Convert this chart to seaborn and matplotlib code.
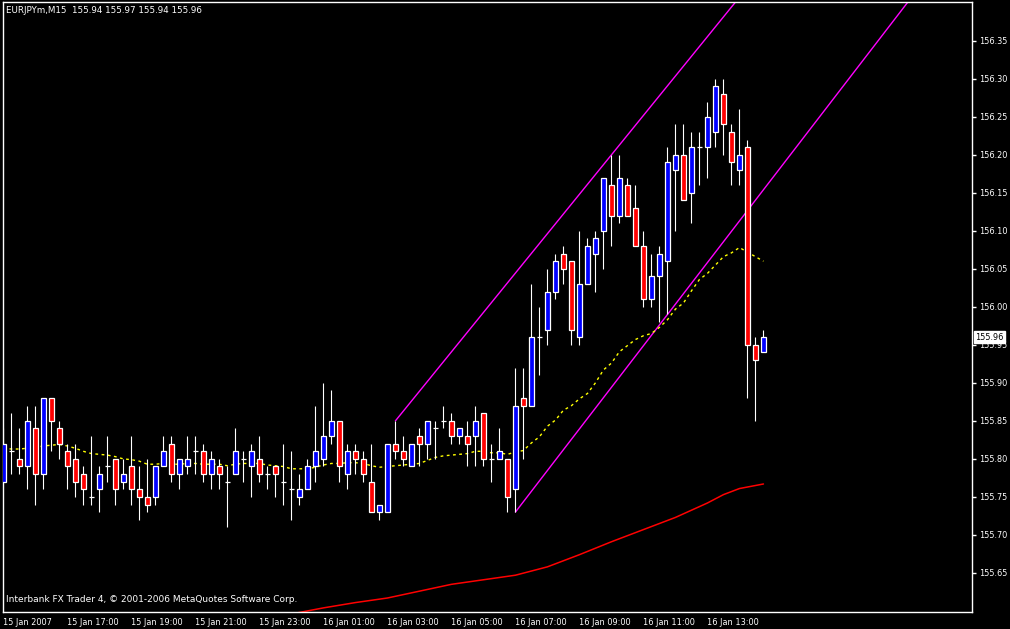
import numpy as np
import pandas as pd
import seaborn as sns
import matplotlib.pyplot as plt
from matplotlib import font_manager
from matplotlib.transforms import blended_transform_factory

# ---- data (EURJPYm, M15, 96 bars) ----
opens = [155.77, 155.81, 155.80, 155.79, 155.84, 155.78, 155.88, 155.84, 155.81, 155.80,
         155.78, 155.75, 155.76, 155.79, 155.80, 155.77, 155.79, 155.76, 155.75, 155.75,
         155.79, 155.82, 155.78, 155.79, 155.81, 155.81, 155.78, 155.79, 155.77, 155.78,
         155.80, 155.79, 155.80, 155.78, 155.79, 155.77, 155.76, 155.75, 155.76, 155.79,
         155.80, 155.83, 155.85, 155.78, 155.81, 155.80, 155.77, 155.73, 155.73, 155.82,
         155.81, 155.79, 155.83, 155.82, 155.84, 155.85, 155.85, 155.83, 155.83, 155.83,
         155.86, 155.80, 155.80, 155.80, 155.76, 155.88, 155.87, 155.96, 155.97, 156.02,
         156.07, 156.06, 155.96, 156.03, 156.07, 156.10, 156.16, 156.12, 156.16, 156.13,
         156.08, 156.01, 156.04, 156.06, 156.18, 156.20, 156.15, 156.21, 156.21, 156.23,
         156.28, 156.23, 156.18, 156.21, 155.95, 155.94]
highs = [155.84, 155.86, 155.84, 155.87, 155.87, 155.88, 155.88, 155.85, 155.82, 155.82,
         155.79, 155.83, 155.79, 155.83, 155.80, 155.80, 155.83, 155.79, 155.80, 155.79,
         155.83, 155.83, 155.80, 155.83, 155.83, 155.82, 155.81, 155.80, 155.79, 155.84,
         155.81, 155.82, 155.83, 155.79, 155.79, 155.82, 155.81, 155.78, 155.80, 155.87,
         155.90, 155.89, 155.85, 155.82, 155.82, 155.81, 155.82, 155.74, 155.82, 155.85,
         155.83, 155.82, 155.84, 155.85, 155.85, 155.87, 155.86, 155.84, 155.85, 155.87,
         155.86, 155.82, 155.84, 155.80, 155.92, 155.92, 156.03, 156.00, 156.05, 156.07,
         156.08, 156.06, 156.10, 156.09, 156.10, 156.17, 156.20, 156.20, 156.17, 156.16,
         156.10, 156.07, 156.08, 156.21, 156.24, 156.24, 156.23, 156.23, 156.27, 156.30,
         156.30, 156.24, 156.26, 156.22, 155.96, 155.97]
lows = [155.77, 155.78, 155.78, 155.76, 155.74, 155.76, 155.81, 155.80, 155.76, 155.75,
        155.74, 155.74, 155.73, 155.77, 155.74, 155.76, 155.74, 155.72, 155.73, 155.74,
        155.79, 155.77, 155.76, 155.78, 155.78, 155.77, 155.76, 155.76, 155.71, 155.78,
        155.77, 155.75, 155.77, 155.76, 155.75, 155.74, 155.72, 155.74, 155.76, 155.77,
        155.79, 155.82, 155.77, 155.76, 155.78, 155.77, 155.73, 155.72, 155.73, 155.80,
        155.79, 155.79, 155.79, 155.80, 155.80, 155.84, 155.82, 155.82, 155.79, 155.79,
        155.79, 155.77, 155.80, 155.73, 155.73, 155.80, 155.87, 155.91, 155.95, 156.01,
        156.03, 155.95, 155.95, 156.03, 156.02, 156.05, 156.08, 156.11, 156.12, 156.08,
        156.00, 156.00, 155.98, 155.99, 156.10, 156.14, 156.11, 156.16, 156.17, 156.21,
        156.20, 156.16, 156.16, 155.88, 155.85, 155.94]
closes = [155.82, 155.81, 155.79, 155.85, 155.78, 155.88, 155.85, 155.82, 155.79, 155.77,
          155.76, 155.75, 155.78, 155.79, 155.76, 155.78, 155.76, 155.75, 155.74, 155.79,
          155.81, 155.78, 155.80, 155.80, 155.81, 155.78, 155.80, 155.78, 155.77, 155.81,
          155.80, 155.81, 155.78, 155.78, 155.78, 155.77, 155.76, 155.76, 155.79, 155.81,
          155.83, 155.85, 155.79, 155.81, 155.80, 155.78, 155.73, 155.74, 155.82, 155.81,
          155.80, 155.82, 155.82, 155.85, 155.84, 155.85, 155.83, 155.84, 155.82, 155.85,
          155.80, 155.80, 155.81, 155.75, 155.87, 155.87, 155.96, 155.96, 156.02, 156.06,
          156.05, 155.97, 156.03, 156.08, 156.09, 156.17, 156.12, 156.17, 156.12, 156.08,
          156.01, 156.04, 156.07, 156.19, 156.20, 156.14, 156.21, 156.21, 156.25, 156.29,
          156.24, 156.19, 156.20, 155.95, 155.93, 155.96]

# yellow dashed moving average (one value per bar)
ma_fast = [155.814, 155.813, 155.813, 155.814, 155.815, 155.817, 155.818, 155.819, 155.817, 155.814,
           155.810, 155.807, 155.806, 155.805, 155.803, 155.800, 155.799, 155.797, 155.793, 155.793,
           155.794, 155.793, 155.793, 155.794, 155.794, 155.793, 155.793, 155.793, 155.791, 155.793,
           155.794, 155.794, 155.794, 155.792, 155.791, 155.790, 155.787, 155.787, 155.787, 155.789,
           155.792, 155.794, 155.794, 155.795, 155.795, 155.794, 155.791, 155.789, 155.790, 155.791,
           155.792, 155.793, 155.794, 155.798, 155.802, 155.804, 155.805, 155.806, 155.807, 155.810,
           155.810, 155.808, 155.808, 155.806, 155.809, 155.811, 155.821, 155.829, 155.843, 155.851,
           155.864, 155.870, 155.879, 155.886, 155.900, 155.917, 155.926, 155.941, 155.949, 155.957,
           155.962, 155.965, 155.973, 155.983, 155.997, 156.005, 156.021, 156.036, 156.044, 156.055,
           156.066, 156.071, 156.078, 156.072, 156.066, 156.060]

# red slow moving average (sampled bars)
ma_slow_bar = [36, 40, 44, 48, 52, 56, 60, 64, 68, 72, 76, 80, 84, 88, 90, 92, 93, 95]
ma_slow_val = [155.596, 155.604, 155.611, 155.617, 155.626, 155.635, 155.641, 155.647, 155.658,
               155.674, 155.691, 155.707, 155.723, 155.742, 155.753, 155.761, 155.763, 155.767]

# magenta trend lines (bar, price anchors)
upper_bar = [49, 100]
upper_val = [155.85, 156.511]
lower_bar = [64, 120]
lower_val = [155.73, 156.496]

tick_bars = [0, 8, 16, 24, 32, 40, 48, 56, 64, 72, 80, 88]
tick_labels = ["15 Jan 2007", "15 Jan 17:00", "15 Jan 19:00", "15 Jan 21:00", "15 Jan 23:00",
               "16 Jan 01:00", "16 Jan 03:00", "16 Jan 05:00", "16 Jan 07:00", "16 Jan 09:00",
               "16 Jan 11:00", "16 Jan 13:00"]
price_ticks = [155.65, 155.70, 155.75, 155.80, 155.85, 155.90, 155.95, 156.00,
               156.05, 156.10, 156.15, 156.20, 156.25, 156.30, 156.35]

df = pd.DataFrame({"open": opens, "high": highs, "low": lows, "close": closes, "ma": ma_fast})
df["bar"] = np.arange(len(df))

sns.set_theme(style="dark")
plt.rcParams["font.family"] = ["DejaVu Sans"]

# narrow face for the terminal's small numbers, if it is there
names = {f.name for f in font_manager.fontManager.ttflist}
if "Liberation Sans Narrow" in names:
    num_font, num_size = "Liberation Sans Narrow", 7.2
else:
    num_font, num_size = "DejaVu Sans", 5.9

fig = plt.figure(figsize=(10.1, 6.29), dpi=100, facecolor="black")
ax = fig.add_axes([2.5 / 1010, (629 - 611.7) / 629, 969.8 / 1010, 609.7 / 629])
ax.set_facecolor("black")

# trend lines and moving averages
sns.lineplot(x=upper_bar, y=upper_val, ax=ax, color="#ff00ff", linewidth=1, zorder=1)
sns.lineplot(x=lower_bar, y=lower_val, ax=ax, color="#ff00ff", linewidth=1, zorder=1)
sns.lineplot(x=ma_slow_bar, y=ma_slow_val, ax=ax, color="#ff0000", linewidth=1.1, zorder=1)
sns.lineplot(data=df, x="bar", y="ma", ax=ax, color="#ffff00", linewidth=1,
             linestyle=(0, (2, 2.5)), zorder=1)

# candles
ax.vlines(df["bar"], df["low"], df["high"], color="white", linewidth=0.8, zorder=2)
body = df[df["open"] != df["close"]]
up = body["close"] > body["open"]
ax.bar(body["bar"], (body["close"] - body["open"]).abs(),
       bottom=body[["open", "close"]].min(axis=1), width=0.6,
       color=np.where(up, "#0000ff", "#ff0000"), edgecolor="white", linewidth=0.9, zorder=3)
doji = df[df["open"] == df["close"]]
ax.hlines(doji["close"], doji["bar"] - 0.3, doji["bar"] + 0.3, color="white",
          linewidth=0.9, zorder=3)

ax.set_xlim(-0.1, 121.1)
ax.set_ylim(155.599, 156.401)

# axes styling like the terminal
for s in ax.spines.values():
    s.set_color("white")
    s.set_linewidth(1)
ax.yaxis.tick_right()
ax.set_yticks(price_ticks)
ax.set_yticklabels([f"{p:.2f}" for p in price_ticks], fontfamily=num_font, fontsize=num_size)
ax.set_xticks(tick_bars)
ax.set_xticklabels(tick_labels, ha="left", fontfamily=num_font, fontsize=num_size)
ax.tick_params(axis="both", colors="white", labelcolor="white",
               direction="out", length=3, width=1)
ax.tick_params(axis="y", pad=1.5)
ax.tick_params(axis="x", pad=1.5)
ax.set_xlabel("")
ax.set_ylabel("")
ax.grid(False)

ax.text(0.004, 0.993, "EURJPYm,M15  155.94 155.97 155.94 155.96", transform=ax.transAxes,
        color="white", fontsize=num_size + 0.4, fontfamily=num_font, ha="left", va="top")
ax.text(0.004, 0.013, "Interbank FX Trader 4, \u00a9 2001-2006 MetaQuotes Software Corp.",
        transform=ax.transAxes, color="white", fontsize=6.5, ha="left", va="bottom")

# current price marker
trans = blended_transform_factory(ax.transAxes, ax.transData)
ax.text(1.003, closes[-1], f"{closes[-1]:.2f}", transform=trans, color="black",
        fontsize=num_size, fontfamily=num_font, ha="left", va="center", clip_on=False, zorder=10,
        bbox=dict(boxstyle="square,pad=0.2", facecolor="white", edgecolor="white"))

fig.savefig("out.png", dpi=100, facecolor="black")
